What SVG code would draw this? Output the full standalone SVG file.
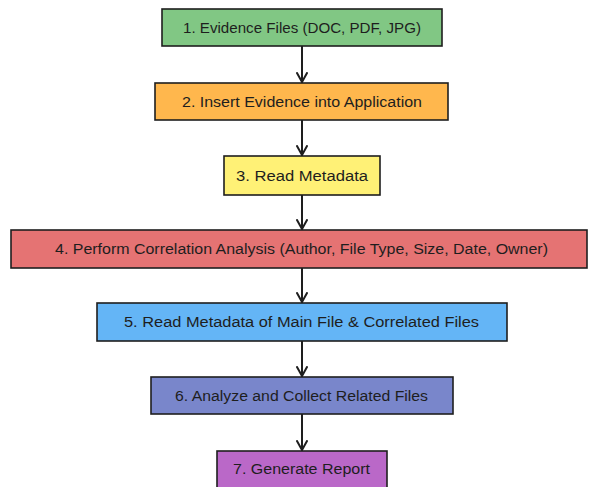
<svg xmlns="http://www.w3.org/2000/svg" width="589" height="487" viewBox="0 0 589 487">
<style>
.box{stroke:#1e1e1e;stroke-width:1.6}
.lbl{font-family:"Liberation Sans",Arial,sans-serif;font-size:14px;fill:#1e1e1e;text-anchor:middle;dominant-baseline:central}
.edge{stroke:#1e1e1e;stroke-width:2;fill:none;stroke-linecap:round;stroke-linejoin:round}
</style>
<defs>
<marker id="arr" markerWidth="14" markerHeight="14" refX="10" refY="6" orient="auto" markerUnits="userSpaceOnUse">
<path d="M1,1 L10,6 L1,11" fill="none" stroke="#1e1e1e" stroke-width="2" stroke-linecap="round" stroke-linejoin="round"/>
</marker>
</defs>
<rect width="589" height="487" fill="#ffffff"/>
<g id="connectors">
<line class="edge" x1="302" y1="46" x2="302" y2="82" marker-end="url(#arr)"/>
<line class="edge" x1="302" y1="120" x2="302" y2="155" marker-end="url(#arr)"/>
<line class="edge" x1="302" y1="195" x2="302" y2="229" marker-end="url(#arr)"/>
<line class="edge" x1="302" y1="268" x2="302" y2="302" marker-end="url(#arr)"/>
<line class="edge" x1="302" y1="341" x2="302" y2="376" marker-end="url(#arr)"/>
<line class="edge" x1="302" y1="414" x2="302" y2="450" marker-end="url(#arr)"/>
</g>
<g id="n1"><rect class="box" x="162" y="9" width="280" height="37" fill="#81C784"/><text class="lbl" x="302" y="28" textLength="238" lengthAdjust="spacingAndGlyphs">1. Evidence Files (DOC, PDF, JPG)</text></g>
<g id="n2"><rect class="box" x="155" y="83" width="293" height="37" fill="#FFB74D"/><text class="lbl" x="302" y="102" textLength="240" lengthAdjust="spacingAndGlyphs">2. Insert Evidence into Application</text></g>
<g id="n3"><rect class="box" x="224" y="156" width="156" height="39" fill="#FFF176"/><text class="lbl" x="302" y="176" textLength="132" lengthAdjust="spacingAndGlyphs">3. Read Metadata</text></g>
<g id="n4"><rect class="box" x="11" y="230" width="576" height="38" fill="#E57373"/><text class="lbl" x="301.5" y="249" textLength="493" lengthAdjust="spacingAndGlyphs">4. Perform Correlation Analysis (Author, File Type, Size, Date, Owner)</text></g>
<g id="n5"><rect class="box" x="97" y="303" width="410" height="38" fill="#64B5F6"/><text class="lbl" x="301.5" y="322" textLength="355" lengthAdjust="spacingAndGlyphs">5. Read Metadata of Main File &amp; Correlated Files</text></g>
<g id="n6"><rect class="box" x="151" y="377" width="302" height="37" fill="#7986CB"/><text class="lbl" x="301.5" y="396" textLength="253" lengthAdjust="spacingAndGlyphs">6. Analyze and Collect Related Files</text></g>
<g id="n7"><rect class="box" x="217" y="451" width="170" height="40" fill="#BA68C8"/><text class="lbl" x="301.5" y="469" textLength="137" lengthAdjust="spacingAndGlyphs">7. Generate Report</text></g>
</svg>
